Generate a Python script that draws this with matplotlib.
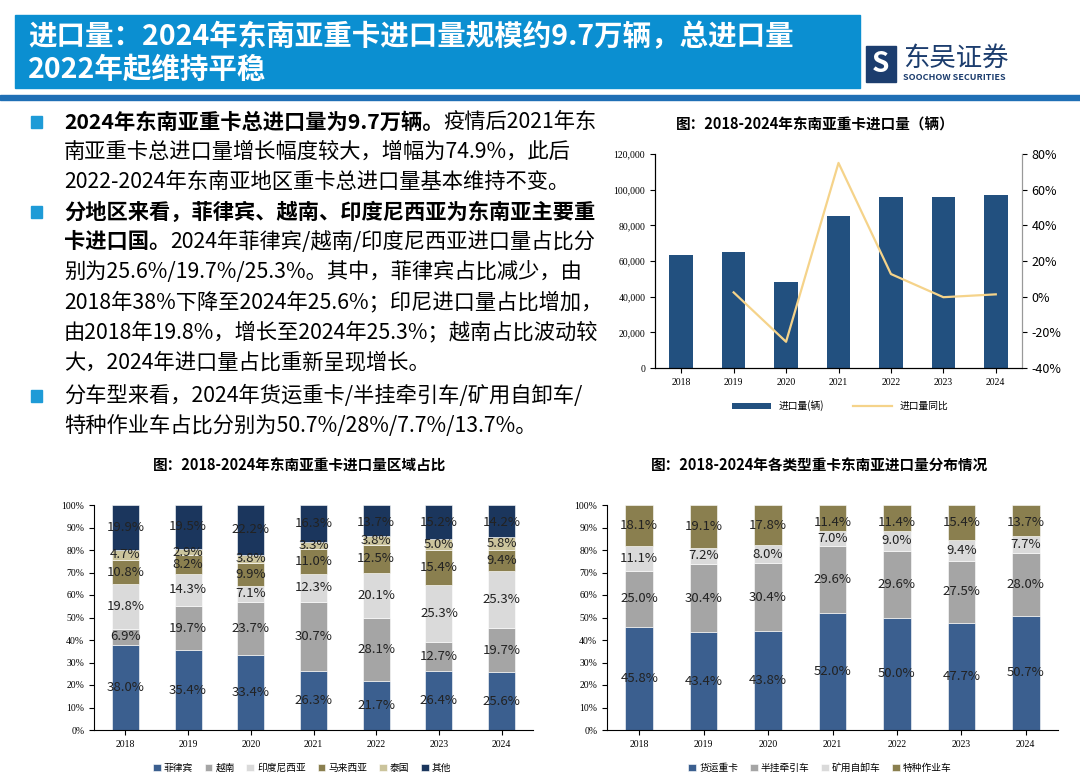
import matplotlib

matplotlib.use("Agg")
import matplotlib.pyplot as plt
from matplotlib.patches import Rectangle
from matplotlib.ticker import FuncFormatter, MultipleLocator
import numpy as np

plt.rcParams["font.family"] = ["Noto Sans CJK SC", "DejaVu Sans"]

W, H = 1080, 783
years = ["2018", "2019", "2020", "2021", "2022", "2023", "2024"]

# top-right chart
import_volume = [63500, 65000, 48500, 85000, 95800, 95800, 97000]
import_yoy = [None, 2.4, -25.3, 75.0, 12.7, -0.3, 1.3]

# bottom-left: region share (%)
region_names = ["菲律宾", "越南", "印度尼西亚", "马来西亚", "泰国", "其他"]
region_share = [
    [38.0, 35.4, 33.4, 26.3, 21.7, 26.4, 25.6],
    [6.9, 19.7, 23.7, 30.7, 28.1, 12.7, 19.7],
    [19.8, 14.3, 7.1, 12.3, 20.1, 25.3, 25.3],
    [10.8, 8.2, 9.9, 11.0, 12.5, 15.4, 9.4],
    [4.7, 2.9, 3.8, 3.3, 3.8, 5.0, 5.8],
    [19.9, 19.5, 22.2, 16.3, 13.7, 15.2, 14.2],
]
region_colors = ["#3B5F8F", "#A5A5A5", "#DADADA", "#8A7F4F", "#CBC49C", "#1B365D"]

# bottom-right: vehicle type share (%)
type_names = ["货运重卡", "半挂牵引车", "矿用自卸车", "特种作业车"]
type_share = [
    [45.8, 43.4, 43.8, 52.0, 50.0, 47.7, 50.7],
    [25.0, 30.4, 30.4, 29.6, 29.6, 27.5, 28.0],
    [11.1, 7.2, 8.0, 7.0, 9.0, 9.4, 7.7],
    [18.1, 19.1, 17.8, 11.4, 11.4, 15.4, 13.7],
]
type_colors = ["#3B5F8F", "#A5A5A5", "#DADADA", "#8A7F4F"]

fig = plt.figure(figsize=(W / 100, H / 100), dpi=100)


def fx(x):
    return x / W


def fy(y):
    return 1 - y / H


def ax_px(x0, y0, x1, y1):
    return fig.add_axes([fx(x0), fy(y1), (x1 - x0) / W, (y1 - y0) / H])


# header
fig.patches.append(Rectangle((fx(15), fy(88)), fx(845), 73 / H, transform=fig.transFigure,
                             color="#0B8FD1", zorder=0))
fig.text(fx(28), fy(37), "进口量：2024年东南亚重卡进口量规模约9.7万辆，总进口量",
         color="white", fontsize=20.5, fontweight="bold", va="center")
fig.text(fx(28), fy(70), "2022年起维持平稳", color="white", fontsize=20.5,
         fontweight="bold", va="center")
fig.patches.append(Rectangle((0, fy(100)), 1, 5 / H, transform=fig.transFigure,
                             color="#1F6FB5"))
fig.patches.append(Rectangle((fx(866), fy(82)), fx(30), 36 / H, transform=fig.transFigure,
                             color="#1C3D6E"))
fig.text(fx(881), fy(64), "S", color="white", fontsize=20, fontweight="bold",
         ha="center", va="center")
fig.text(fx(903), fy(58), "东吴证券", color="#1C3D6E", fontsize=19, va="center")
fig.text(fx(903), fy(77), "SOOCHOW SECURITIES", color="#1C3D6E", fontsize=6.5,
         fontweight="bold", va="center")

# left text block
renderer = fig.canvas.get_renderer()
lines = [
    (122, True, [("2024年东南亚重卡总进口量为9.7万辆。", True), ("疫情后2021年东", False)]),
    (152, False, [("南亚重卡总进口量增长幅度较大，增幅为74.9%，此后", False)]),
    (182, False, [("2022-2024年东南亚地区重卡总进口量基本维持不变。", False)]),
    (212, True, [("分地区来看，菲律宾、越南、印度尼西亚为东南亚主要重", True)]),
    (242, False, [("卡进口国。", True), ("2024年菲律宾/越南/印度尼西亚进口量占比分", False)]),
    (272, False, [("别为25.6%/19.7%/25.3%。其中，菲律宾占比减少，由", False)]),
    (302, False, [("2018年38%下降至2024年25.6%；印尼进口量占比增加，", False)]),
    (332, False, [("由2018年19.8%，增长至2024年25.3%；越南占比波动较", False)]),
    (362, False, [("大，2024年进口量占比重新呈现增长。", False)]),
    (396, True, [("分车型来看，2024年货运重卡/半挂牵引车/矿用自卸车/", False)]),
    (426, False, [("特种作业车占比分别为50.7%/28%/7.7%/13.7%。", False)]),
]
for y, bullet, segs in lines:
    if bullet:
        fig.patches.append(Rectangle((fx(31), fy(y + 6)), 11 / W, 12 / H,
                                     transform=fig.transFigure, color="#1E9BD7"))
    x = 64
    for s, bold in segs:
        t = fig.text(fx(x), fy(y), s, fontsize=15.3, va="center", color="black",
                     fontweight="bold" if bold else "normal")
        x = t.get_window_extent(renderer).x1

# top-right chart
serif = "Liberation Serif"
fig.text(fx(815), fy(125), "图：2018-2024年东南亚重卡进口量（辆）", fontsize=10.5,
         fontweight="bold", ha="center", va="center")
ax = ax_px(655, 154, 1022, 368)
xpos = np.arange(len(years))
ax.bar(xpos, import_volume, width=0.45, color="#22507F", label="进口量(辆)")
ax.set_ylim(0, 120000)
ax.set_xlim(-0.5, 6.5)
ax.yaxis.set_major_locator(MultipleLocator(20000))
ax.yaxis.set_major_formatter(FuncFormatter(lambda v, p: f"{v:,.0f}"))
ax.set_xticks(xpos)
ax.set_xticklabels(years, family=serif)
ax.tick_params(labelsize=7)
for lbl in ax.get_yticklabels():
    lbl.set_family(serif)
ax.spines["top"].set_visible(False)
ax.spines["right"].set_color("#999999")
ax2 = ax.twinx()
ax2.plot(xpos[1:], import_yoy[1:], color="#F5D38A", lw=1.6, label="进口量同比")
ax2.set_ylim(-40, 80)
ax2.yaxis.set_major_locator(MultipleLocator(20))
ax2.yaxis.set_major_formatter(FuncFormatter(lambda v, p: f"{v:.0f}%"))
ax2.tick_params(labelsize=9, colors="black")
ax2.spines["top"].set_visible(False)
ax2.spines["right"].set_color("#999999")
h1, l1 = ax.get_legend_handles_labels()
h2, l2 = ax2.get_legend_handles_labels()
fig.legend(h1 + h2, l1 + l2, loc="center", bbox_to_anchor=(fx(840), fy(406)), ncol=2,
           frameon=False, fontsize=7, handlelength=4, columnspacing=3)


def stacked(ax, data, colors, names, legend_y, legend_x):
    bottom = np.zeros(len(years))
    for vals, c, n in zip(data, colors, names):
        vals = np.array(vals)
        ax.bar(xpos, vals, bottom=bottom, width=0.43, color=c, label=n,
               edgecolor="white", linewidth=0.4)
        for xi, b, v in zip(xpos, bottom, vals):
            ax.text(xi, min(b + v / 2, 92), f"{v:.1f}%", ha="center", va="center",
                    fontsize=9.5, color="#222222")
        bottom += vals
    ax.set_ylim(0, 100)
    ax.set_xlim(-0.5, 6.5)
    ax.yaxis.set_major_locator(MultipleLocator(10))
    ax.yaxis.set_major_formatter(FuncFormatter(lambda v, p: f"{v:.0f}%"))
    ax.set_xticks(xpos)
    ax.set_xticklabels(years, family=serif)
    ax.tick_params(labelsize=7)
    for lbl in ax.get_yticklabels():
        lbl.set_family(serif)
    ax.spines["top"].set_visible(False)
    ax.spines["right"].set_visible(False)
    fig.legend(*ax.get_legend_handles_labels(), loc="center",
               bbox_to_anchor=(fx(legend_x), fy(legend_y)), ncol=len(names),
               frameon=False, fontsize=7, handlelength=0.8, handleheight=0.8,
               columnspacing=1.2, handletextpad=0.3)


fig.text(fx(300), fy(466), "图：2018-2024年东南亚重卡进口量区域占比", fontsize=10.5,
         fontweight="bold", ha="center", va="center")
axl = ax_px(94, 505, 533, 730)
stacked(axl, region_share, region_colors, region_names, 768, 302)

fig.text(fx(820), fy(466), "图：2018-2024年各类型重卡东南亚进口量分布情况", fontsize=10.5,
         fontweight="bold", ha="center", va="center")
axr = ax_px(607, 505, 1058, 730)
stacked(axr, type_share, type_colors, type_names, 768, 820)

fig.savefig("out.png", dpi=100)
